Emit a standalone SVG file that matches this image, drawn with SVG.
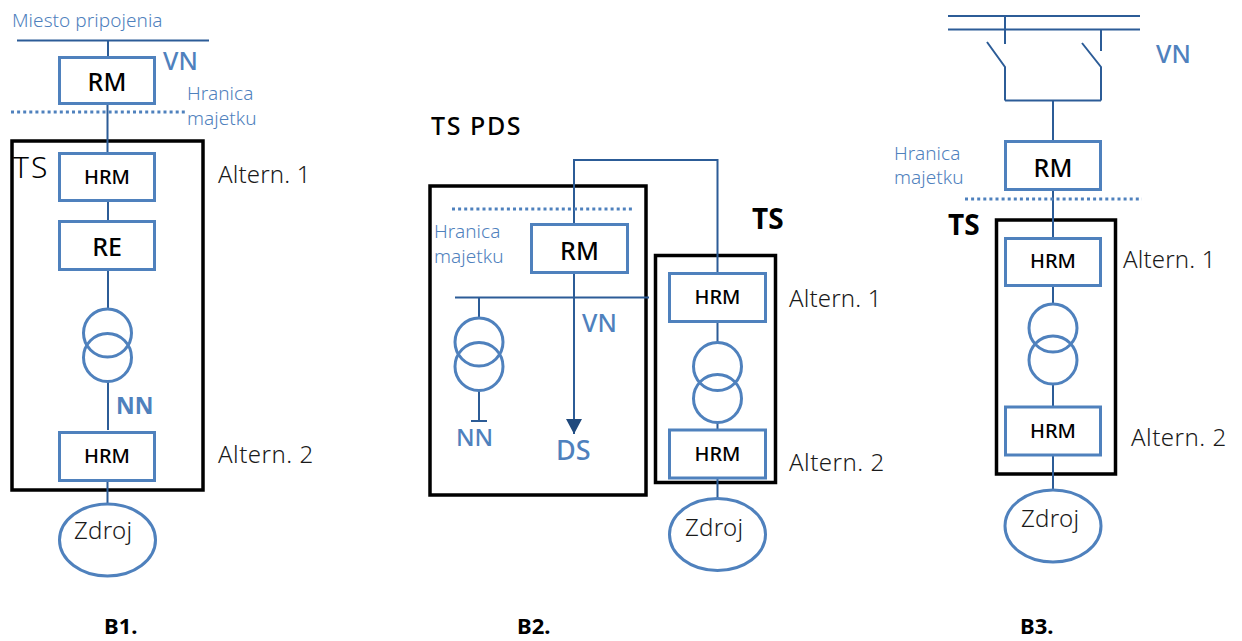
<svg xmlns="http://www.w3.org/2000/svg" width="1242" height="641" viewBox="0 0 1242 641">
<defs>
<marker id="arrowdown" markerUnits="userSpaceOnUse" markerWidth="16" markerHeight="16" refX="8" refY="15" orient="0" viewBox="0 0 16 16"><path d="M0 0H16L8 15Z" fill="#1f497d"/></marker>
</defs>
<style>
text{font-family:"Noto Sans","Open Sans","DejaVu Sans",sans-serif;}
.box{fill:#fff;stroke:#4f81bd;stroke-width:3;}
.frame{fill:none;stroke:#000;stroke-width:3.5;}
.circ{fill:none;stroke:#4f81bd;stroke-width:3;}
.wire{fill:none;stroke:#2c5c97;stroke-width:2;}
.dot{fill:none;stroke:#4f81bd;stroke-width:3;stroke-dasharray:3 3.1;}
.in{font-size:25px;font-weight:500;fill:#000;text-anchor:middle;}
.in2{font-size:20px;font-weight:500;fill:#000;text-anchor:middle;}
.alt{font-size:24px;font-weight:300;fill:#1a1a1a;letter-spacing:.15px;}
.alt2{font-size:24px;font-weight:300;fill:#1a1a1a;letter-spacing:.5px;}
.src{font-size:24px;font-weight:300;fill:#1a1a1a;letter-spacing:.3px;}
.own{font-size:19px;font-weight:300;fill:#4f81bd;letter-spacing:.05px;}
.volt{font-size:25px;font-weight:500;fill:#4f81bd;}
.bold{font-size:28px;font-weight:700;fill:#000;}
.cap{font-size:22px;font-weight:700;fill:#000;}
</style>
<g id="frames">
<rect class="frame" x="12" y="141" width="191" height="349"/>
<rect class="frame" x="430" y="186" width="216" height="309"/>
<rect class="frame" x="655.5" y="255.5" width="120" height="227"/>
<rect class="frame" x="996.5" y="220" width="119" height="254"/>
</g>
<g id="connectors">
<path class="wire" d="M17 40.5H209M108 40V56M107.5 104V153M108 202V221M108 270V309M108 382V430M107.5 481V503"/>
<path class="dot" d="M11 112H187"/>
<path class="wire" d="M574 224V160H717.5V272"/>
<path class="wire" d="M455 297.5H649M479 297V318M479 391V421M471 421H487M717.5 322V342M717.5 423V429M717.5 479V498"/>
<path class="wire" d="M574 273V434" marker-end="url(#arrowdown)"/>
<path class="dot" d="M452 209H632"/>
<path class="wire" d="M948 16H1140M948 29.5H1140M1005 16V44M1101 29.5V51M987 42L1005 67V100.5M1082 43L1101 67V100.5M1005 100.5H1101M1053 100V141M1053 190V238M1053 286V304M1053 385V406M1053 455V490"/>
<path class="dot" d="M965 199H1142"/>
</g>
<g id="b1-labels">
<text class="own" x="12" y="27">Miesto pripojenia</text>
<text class="volt" x="163" y="70">VN</text>
<text class="own" x="187" y="100">Hranica</text>
<text class="own" x="187" y="125">majetku</text>
<text x="13" y="178" font-size="30" font-weight="300" fill="#000" letter-spacing="2">TS</text>
<text class="alt" x="218" y="183">Altern. 1</text>
<text class="alt2" x="218" y="463">Altern. 2</text>
<text x="116" y="414" font-size="23" font-weight="700" fill="#4f81bd">NN</text>
<text class="cap" x="104" y="634">B1.</text>
</g>
<g id="b1-rm"><rect class="box" x="59.5" y="57.5" width="95" height="46"/><text class="in" x="107" y="91">RM</text></g>
<g id="b1-hrm1"><rect class="box" x="59.5" y="153.5" width="95" height="47"/><text class="in2" x="107" y="184">HRM</text></g>
<g id="b1-re"><rect class="box" x="59.5" y="221.5" width="95" height="48"/><text class="in" x="107" y="256">RE</text></g>
<g id="b1-trafo"><circle class="circ" cx="107.5" cy="333" r="24"/><circle class="circ" cx="107.5" cy="357.5" r="24"/></g>
<g id="b1-hrm2"><rect class="box" x="59.5" y="432.5" width="95" height="48"/><text class="in2" x="107" y="463">HRM</text></g>
<g id="b1-zdroj"><ellipse class="circ" cx="107.5" cy="540" rx="48" ry="36"/><text class="src" x="74" y="539">Zdroj</text></g>
<g id="b2-labels">
<text x="431" y="135" font-size="25" font-weight="500" fill="#000" letter-spacing="1.6">TS PDS</text>
<text class="own" x="434" y="238">Hranica</text>
<text class="own" x="434" y="263">majetku</text>
<text class="volt" x="582" y="332">VN</text>
<text class="volt" x="456" y="446" style="font-size:24px">NN</text>
<text class="volt" x="556" y="460" style="font-size:27px">DS</text>
<text class="bold" x="752" y="229">TS</text>
<text class="alt" x="789" y="307">Altern. 1</text>
<text class="alt2" x="789" y="471">Altern. 2</text>
<text class="cap" x="517" y="634">B2.</text>
</g>
<g id="b2-rm"><rect class="box" x="531.5" y="224.5" width="96" height="48"/><text class="in" x="579.5" y="260">RM</text></g>
<g id="b2-trafo-pds"><circle class="circ" cx="479" cy="342" r="24"/><circle class="circ" cx="479" cy="366.5" r="24"/></g>
<g id="b2-hrm1"><rect class="box" x="669.5" y="273.5" width="96" height="48"/><text class="in2" x="717.5" y="304">HRM</text></g>
<g id="b2-trafo"><circle class="circ" cx="717.5" cy="366.5" r="24"/><circle class="circ" cx="717.5" cy="398.5" r="24"/></g>
<g id="b2-hrm2"><rect class="box" x="669.5" y="430" width="96" height="48"/><text class="in2" x="717.5" y="461">HRM</text></g>
<g id="b2-zdroj"><ellipse class="circ" cx="717.5" cy="534.5" rx="48" ry="36"/><text class="src" x="685" y="536">Zdroj</text></g>
<g id="b3-labels">
<text class="volt" x="1156" y="63">VN</text>
<text class="own" x="894" y="160">Hranica</text>
<text class="own" x="894" y="184">majetku</text>
<text class="bold" x="948" y="235">TS</text>
<text class="alt" x="1123" y="268">Altern. 1</text>
<text class="alt2" x="1131" y="446">Altern. 2</text>
<text class="cap" x="1020" y="634">B3.</text>
</g>
<g id="b3-rm"><rect class="box" x="1005.5" y="141.5" width="95" height="48"/><text class="in" x="1053" y="177">RM</text></g>
<g id="b3-hrm1"><rect class="box" x="1005.5" y="238.5" width="95" height="47"/><text class="in2" x="1053" y="268">HRM</text></g>
<g id="b3-trafo"><circle class="circ" cx="1053" cy="328" r="24"/><circle class="circ" cx="1053" cy="360" r="24"/></g>
<g id="b3-hrm2"><rect class="box" x="1005.5" y="407" width="95" height="48"/><text class="in2" x="1053" y="438">HRM</text></g>
<g id="b3-zdroj"><ellipse class="circ" cx="1053" cy="526" rx="48" ry="36"/><text class="src" x="1021" y="527">Zdroj</text></g>
</svg>
